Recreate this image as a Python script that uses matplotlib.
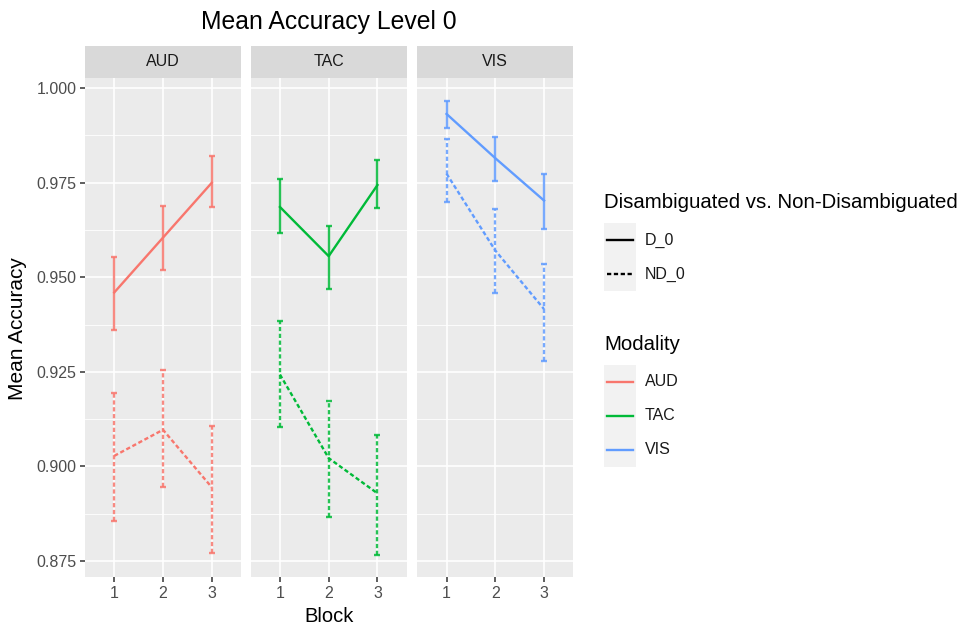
import matplotlib
matplotlib.use("Agg")
import matplotlib.pyplot as plt
from matplotlib.lines import Line2D
from matplotlib.patches import Rectangle

plt.rcParams['font.family'] = ['Liberation Sans', 'DejaVu Sans']

# ---------------- data ----------------
blocks = [1, 2, 3]
block_labels = ["1", "2", "3"]
modalities = ["AUD", "TAC", "VIS"]
conditions = ["D_0", "ND_0"]
colors = {"AUD": "#F8766D", "TAC": "#00BA38", "VIS": "#619CFF"}

aud_d_mean = [0.9460, 0.9605, 0.9750]
aud_d_lo = [0.9360, 0.9520, 0.9686]
aud_d_hi = [0.9553, 0.9688, 0.9821]
aud_nd_mean = [0.9028, 0.9097, 0.8945]
aud_nd_lo = [0.8856, 0.8945, 0.8771]
aud_nd_hi = [0.9193, 0.9255, 0.9108]

tac_d_mean = [0.9686, 0.9556, 0.9744]
tac_d_lo = [0.9618, 0.9470, 0.9684]
tac_d_hi = [0.9759, 0.9637, 0.9810]
tac_nd_mean = [0.9243, 0.9022, 0.8929]
tac_nd_lo = [0.9104, 0.8867, 0.8767]
tac_nd_hi = [0.9384, 0.9173, 0.9084]

vis_d_mean = [0.9932, 0.9815, 0.9703]
vis_d_lo = [0.9895, 0.9754, 0.9627]
vis_d_hi = [0.9967, 0.9870, 0.9773]
vis_nd_mean = [0.9774, 0.9571, 0.9416]
vis_nd_lo = [0.9700, 0.9459, 0.9280]
vis_nd_hi = [0.9867, 0.9680, 0.9535]

series = {
    ("AUD", "D_0"): (aud_d_mean, aud_d_lo, aud_d_hi),
    ("AUD", "ND_0"): (aud_nd_mean, aud_nd_lo, aud_nd_hi),
    ("TAC", "D_0"): (tac_d_mean, tac_d_lo, tac_d_hi),
    ("TAC", "ND_0"): (tac_nd_mean, tac_nd_lo, tac_nd_hi),
    ("VIS", "D_0"): (vis_d_mean, vis_d_lo, vis_d_hi),
    ("VIS", "ND_0"): (vis_nd_mean, vis_nd_lo, vis_nd_hi),
}
yticks = [0.875, 0.900, 0.925, 0.950, 0.975, 1.000]
yminor = [0.8875, 0.9125, 0.9375, 0.9625, 0.9875]

# ---------------- layout ----------------
W, H = 963, 628
fig = plt.figure(figsize=(W / 100, H / 100), dpi=100)

panel_left = [85, 250.7, 417.3]
panel_w = 156
panel_top, panel_bot = 78, 577.3
strip_top = 46

ylim = (0.8707, 1.0027)
dash = (1.8, 1.1)
LW = 1.7

def fx(px):
    return px / W

def fy(py):
    return 1 - py / H

for i, mod in enumerate(modalities):
    ax = fig.add_axes([fx(panel_left[i]), fy(panel_bot), panel_w / W, (panel_bot - panel_top) / H])
    ax.set_facecolor("#EBEBEB")
    ax.set_xlim(0.4, 3.6)
    ax.set_ylim(*ylim)
    for y in yminor:
        ax.axhline(y, color="white", lw=0.6, zorder=0)
    for y in yticks:
        ax.axhline(y, color="white", lw=1.2, zorder=0)
    for x in blocks:
        ax.axvline(x, color="white", lw=1.2, zorder=0)
    for s in ax.spines.values():
        s.set_visible(False)
    ax.set_xticks(blocks)
    ax.set_xticklabels(block_labels)
    ax.set_yticks(yticks)
    if i == 0:
        ax.set_yticklabels([f"{v:.3f}" for v in yticks])
    else:
        ax.tick_params(axis="y", left=False, labelleft=False)
    ax.tick_params(axis="both", colors="#333333", labelcolor="#4D4D4D",
                   labelsize=11.5, length=3.5, width=1.1, pad=2.5)

    for cond in conditions:
        m, lo, hi = series[(mod, cond)]
        c = colors[mod]
        ls = "-" if cond == "D_0" else (0, dash)
        ax.plot(blocks, m, color=c, lw=LW, linestyle=ls, zorder=3)
        yerr = [[mm - l for mm, l in zip(m, lo)], [h - mm for mm, h in zip(m, hi)]]
        eb = ax.errorbar(blocks, m, yerr=yerr, fmt="none", ecolor=c, elinewidth=LW,
                         capsize=2.5, capthick=LW, alpha=0.85, zorder=2)
        if cond == "ND_0":
            for lc in eb[2]:
                lc.set_linestyle((0, dash))

    # strip
    fig.patches.append(Rectangle((fx(panel_left[i]), fy(panel_top)), panel_w / W,
                                 (panel_top - strip_top) / H, transform=fig.transFigure,
                                 facecolor="#D9D9D9", edgecolor="none"))
    fig.text(fx(panel_left[i] + panel_w / 2), fy((panel_top + strip_top) / 2), mod,
             ha="center", va="center", fontsize=11.5, color="#1A1A1A")

# titles
fig.text(fx(329), fy(22), "Mean Accuracy Level 0", ha="center", va="center", fontsize=17.8)
fig.text(fx(329), fy(617), "Block", ha="center", va="center", fontsize=14.5)
fig.text(fx(18), fy(329), "Mean Accuracy", ha="center", va="center", rotation=90, fontsize=15)

# ---------------- legends ----------------
def legend_block(title, title_y, labels, key_top, styles):
    fig.text(fx(604), fy(title_y), title, ha="left", va="center", fontsize=14.7)
    kh = 34
    for j, (lab, (col, ls)) in enumerate(zip(labels, styles)):
        ky = key_top + j * kh
        fig.patches.append(Rectangle((fx(604), fy(ky + kh)), 32 / W, kh / H,
                                     transform=fig.transFigure, facecolor="#F2F2F2",
                                     edgecolor="none"))
        fig.add_artist(Line2D([fx(607), fx(633)], [fy(ky + kh / 2)] * 2,
                              transform=fig.transFigure, color=col, lw=LW, linestyle=ls))
        fig.text(fx(645), fy(ky + kh / 2), lab, ha="left", va="center", fontsize=11.5,
                 color="#1A1A1A")

legend_block("Disambiguated vs. Non-Disambiguated", 202, conditions, 223,
             [("black", "-"), ("black", (0, dash))])
legend_block("Modality", 345, modalities, 365,
             [(colors[m], "-") for m in modalities])

fig.savefig("out.png", dpi=100, facecolor="white")
